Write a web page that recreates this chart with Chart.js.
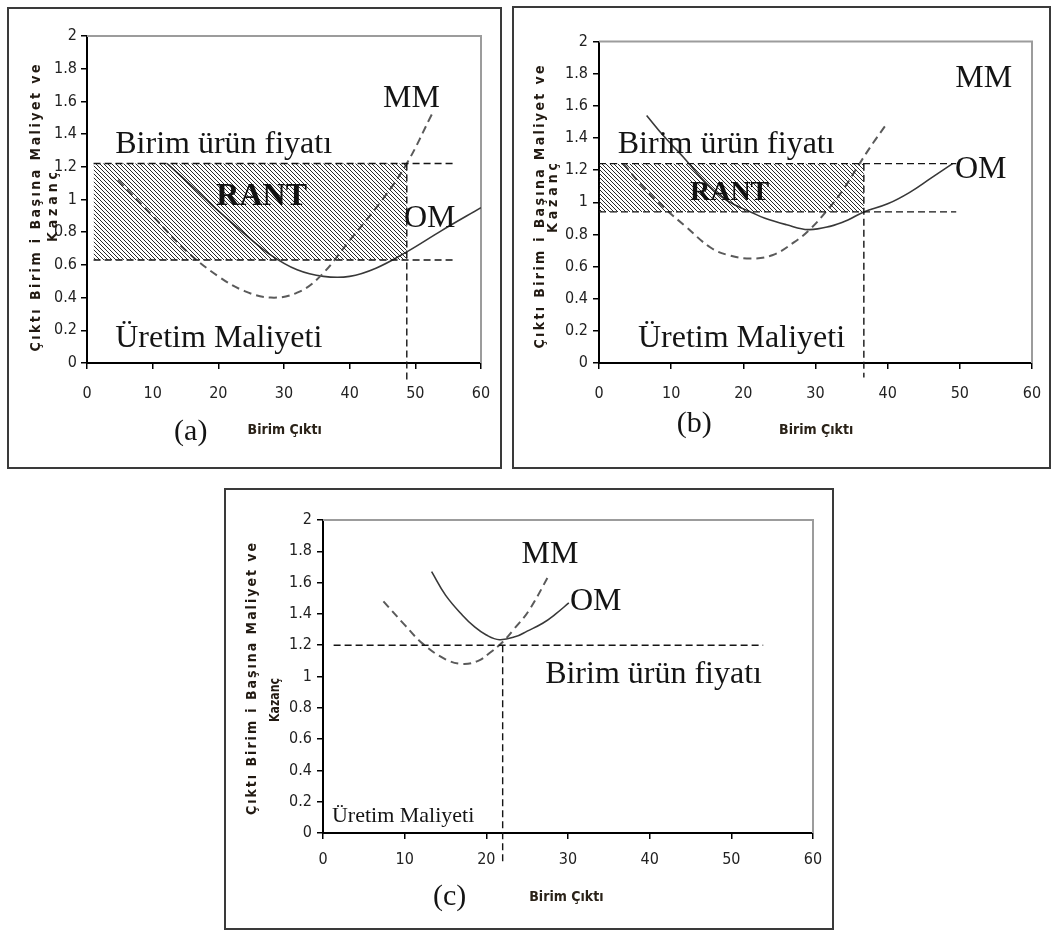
<!DOCTYPE html>
<html>
<head>
<meta charset="utf-8">
<script src="https://cdn.jsdelivr.net/npm/chart.js@4.4.0/dist/chart.umd.min.js"></script>
<style>
    body { margin: 0; background: #fff; width: 1052px; height: 934px; position: relative; overflow: hidden; }
    .box { position: absolute; border: 2px solid #3a3a3a; box-sizing: border-box; background: #fff; }
    .box canvas { position: absolute; left: 0; top: 0; }
</style>
</head>
<body>
<div class="box" style="left:7px;top:7px;width:495px;height:462px"><canvas id="chartA" width="491" height="458"></canvas></div>
<div class="box" style="left:512px;top:6px;width:539px;height:463px"><canvas id="chartB" width="535" height="459"></canvas></div>
<div class="box" style="left:224px;top:488px;width:610px;height:442px"><canvas id="chartC" width="606" height="438"></canvas></div>
<script>
const FONT_NARROW = '"Liberation Sans Narrow", "Arial Narrow", "DejaVu Sans Condensed", "Liberation Sans", Arial, sans-serif';
const FONT_SERIF = '"Liberation Serif", "Times New Roman", serif';

const xTickValues = [0, 10, 20, 30, 40, 50, 60];
const yTickValues = [0, 0.2, 0.4, 0.6, 0.8, 1, 1.2, 1.4, 1.6, 1.8, 2];

// (a)
const mmOutA = [4.7, 10, 15, 20, 24, 28, 32, 35.5, 40, 45, 48.7, 52.5];
const mmA = [1.12, 0.90, 0.69, 0.53, 0.44, 0.40, 0.43, 0.53, 0.75, 1.00, 1.22, 1.52];
const omOutA = [12.2, 16, 20, 24, 28, 32, 36, 40, 44, 48.7, 54, 60];
const omA = [1.22, 1.08, 0.93, 0.79, 0.66, 0.57, 0.53, 0.53, 0.58, 0.68, 0.81, 0.95];
const priceA = 1.22, costA = 0.63, qA = 48.7;
const spanA = [1, 56];

// (b)
const mmOutB = [3.4, 6, 9.4, 12, 15.4, 18, 21, 24, 27, 29.2, 32, 34, 36.1, 38, 39.9];
const mmB = [1.24, 1.10, 0.95, 0.85, 0.72, 0.67, 0.65, 0.67, 0.75, 0.83, 0.97, 1.09, 1.24, 1.37, 1.49];
const omOutB = [6.6, 9, 11.7, 14, 16.8, 19, 21, 23, 26, 29, 32, 34.5, 36.7, 40, 43, 46, 49];
const omB = [1.54, 1.41, 1.28, 1.16, 1.04, 0.98, 0.94, 0.90, 0.86, 0.83, 0.85, 0.89, 0.94, 0.99, 1.06, 1.15, 1.24];
const priceB = 1.24, costB = 0.94, qB = 36.7;
const spanB = [0, 49.5];

// (c)
const mmOutC = [7.4, 10, 12.2, 15, 17.1, 19, 20.4, 22, 23.5, 25.2, 27.7];
const mmC = [1.48, 1.33, 1.21, 1.11, 1.08, 1.10, 1.15, 1.22, 1.31, 1.42, 1.65];
const omOutC = [13.3, 15, 17.1, 18.5, 20, 21.6, 23.6, 25, 26.9, 28.5, 30.1];
const omC = [1.67, 1.52, 1.39, 1.32, 1.265, 1.235, 1.255, 1.29, 1.34, 1.40, 1.47];
const priceC = 1.2, qC = 22;
const spanC = [1.3, 53.9];

// text on the plots: [text, x, y, style]
const labelsA = [
    ['Birim ürün fiyatı', 4.3, 1.284, 'serif'],
    ['RANT', 26.6, 0.966, 'rant'],
    ['MM', 49.4, 1.566, 'serifMid'],
    ['OM', 52.2, 0.83, 'serifMid'],
    ['Üretim Maliyeti', 4.3, 0.098, 'serif'],
    ['(a)', 15.8, -0.42, 'tag'],
    ['Birim Çıktı', 30.1, -0.41, 'axis']
];
const labelsB = [
    ['Birim ürün fiyatı', 2.6, 1.306, 'serif'],
    ['RANT', 18.1, 1.014, 'rantSmall'],
    ['MM', 53.3, 1.717, 'serifMid'],
    ['OM', 52.9, 1.151, 'serifMid'],
    ['Üretim Maliyeti', 5.4, 0.10, 'serif'],
    ['(b)', 13.2, -0.38, 'tag'],
    ['Birim Çıktı', 30.1, -0.42, 'axis']
];
const labelsC = [
    ['MM', 27.8, 1.725, 'serifMid'],
    ['OM', 33.4, 1.425, 'serifMid'],
    ['Birim ürün fiyatı', 27.2, 0.958, 'serif'],
    ['Üretim Maliyeti', 1.1, 0.07, 'serifSmall'],
    ['(c)', 15.5, -0.41, 'tag'],
    ['Birim Çıktı', 29.8, -0.41, 'axis']
];

const yTitle1 = 'Çıktı Birim i Başına Maliyet ve';
const yTitle2 = 'Kazanç';

const textStyles = {
    serif: { font: '32px ' + FONT_SERIF, align: 'left', base: 'alphabetic', color: '#141414' },
    serifMid: { font: '32px ' + FONT_SERIF, align: 'center', base: 'alphabetic', color: '#141414' },
    serifSmall: { font: '22px ' + FONT_SERIF, align: 'left', base: 'alphabetic', color: '#141414' },
    rant: { font: 'bold 32px ' + FONT_SERIF, align: 'center', base: 'alphabetic', color: '#111' },
    rantSmall: { font: 'bold 28px ' + FONT_SERIF, align: 'center', base: 'alphabetic', color: '#111' },
    tag: { font: '30px ' + FONT_SERIF, align: 'center', base: 'middle', color: '#141414' },
    axis: { font: 'bold 14px ' + FONT_NARROW, align: 'center', base: 'middle', color: '#2a2218' }
};

const pts = (xs, ys) => xs.map((x, i) => ({ x: x, y: ys[i] }));
const flat = (xs, v) => xs.map(x => ({ x: x, y: v }));

function hatch() {
    const c = document.createElement('canvas');
    c.width = 4; c.height = 4;
    const g = c.getContext('2d');
    g.strokeStyle = '#111';
    g.lineWidth = 0.9;
    [-4, 0, 4].forEach(o => {
        g.beginPath();
        g.moveTo(0, o);
        g.lineTo(4, 4 + o);
        g.stroke();
    });
    return g.createPattern(c, 'repeat');
}

function dashed(data, extra) {
    return Object.assign({
        data: data, borderColor: '#151515', borderWidth: 1.4, borderDash: [7, 4],
        pointRadius: 0, tension: 0, fill: false
    }, extra || {});
}

function curveMM(data) {
    return { data: data, borderColor: '#5a5a5a', borderWidth: 2, borderDash: [8, 5], pointRadius: 0, tension: 0.4, fill: false };
}

function curveOM(data) {
    return { data: data, borderColor: '#383838', borderWidth: 1.6, pointRadius: 0, tension: 0.4, fill: false };
}

const annotate = {
    id: 'annotate',
    beforeDatasetsDraw(chart) {
        const { ctx, chartArea: a } = chart;
        ctx.save();
        ctx.strokeStyle = '#9c9c9c';
        ctx.lineWidth = 2;
        ctx.beginPath();
        ctx.moveTo(a.left, a.top);
        ctx.lineTo(a.right, a.top);
        ctx.lineTo(a.right, a.bottom);
        ctx.stroke();
        ctx.restore();
    },
    afterDatasetsDraw(chart, args, opts) {
        const { ctx, scales } = chart;
        ctx.save();
        opts.labels.forEach(([text, x, y, style]) => {
            const s = textStyles[style];
            ctx.font = s.font;
            ctx.fillStyle = s.color;
            ctx.textAlign = s.align;
            ctx.textBaseline = s.base;
            ctx.fillText(text, scales.x.getPixelForValue(x), scales.y.getPixelForValue(y));
        });
        ctx.restore();
    },
    afterDraw(chart, args, opts) {
        const ctx = chart.ctx;
        opts.yTitle.forEach(([text, cx, cy, len]) => {
            ctx.save();
            ctx.font = 'bold 14px ' + FONT_NARROW;
            ctx.letterSpacing = '0px';
            const w = ctx.measureText(text).width;
            const sp = Math.max(0, (len - w) / (text.length - 1));
            ctx.letterSpacing = sp + 'px';
            ctx.translate(cx, cy);
            ctx.rotate(-Math.PI / 2);
            if (w > len) ctx.scale(len / w, 1);
            ctx.textAlign = 'center';
            ctx.textBaseline = 'middle';
            ctx.fillStyle = '#221a12';
            ctx.fillText(text, sp / 2, 0);
            ctx.restore();
        });
    }
};

function makeChart(id, area, xPad, yPad, datasets, labels, yTitle) {
    const canvas = document.getElementById(id);
    const W = canvas.width, H = canvas.height;
    const axisW = 40, axisH = 40;
    const tickFont = { family: FONT_NARROW, size: 16 };
    const grid = { drawOnChartArea: false, color: '#000', lineWidth: 1.5, tickLength: 6 };
    const border = { display: true, color: '#000', width: 2 };
    const fitX = s => { s.height = axisH; s.paddingLeft = 0; s.paddingRight = 0; };
    const fitY = s => { s.width = axisW; s.paddingTop = 0; s.paddingBottom = 0; };
    return new Chart(canvas, {
        type: 'line',
        data: { datasets: datasets },
        options: {
            responsive: false,
            animation: false,
            events: [],
            layout: {
                padding: { left: area.left - axisW, top: area.top, right: W - area.right, bottom: H - area.bottom - axisH }
            },
            plugins: {
                legend: { display: false },
                tooltip: { enabled: false },
                annotate: { labels: labels, yTitle: yTitle }
            },
            scales: {
                x: {
                    type: 'linear', min: 0, max: 60,
                    afterBuildTicks: s => { s.ticks = xTickValues.map(v => ({ value: v })); },
                    afterFit: fitX,
                    ticks: { color: '#222', font: tickFont, padding: xPad, maxRotation: 0, autoSkip: false },
                    grid: grid, border: border
                },
                y: {
                    type: 'linear', min: 0, max: 2,
                    afterBuildTicks: s => { s.ticks = yTickValues.map(v => ({ value: v })); },
                    afterFit: fitY,
                    ticks: { color: '#222', font: tickFont, padding: yPad, callback: v => String(Number(v.toFixed(1))) },
                    grid: grid, border: border
                }
            }
        },
        plugins: [annotate]
    });
}

const pattern = hatch();

makeChart('chartA', { left: 78, top: 27, right: 472, bottom: 354 }, 15, 4, [
    { data: flat([spanA[0], qA], priceA), borderWidth: 0, pointRadius: 0, fill: '+1', backgroundColor: pattern },
    { data: flat([spanA[0], qA], costA), borderWidth: 0, pointRadius: 0, fill: false },
    dashed(flat(spanA, priceA)),
    dashed(flat(spanA, costA)),
    dashed([{ x: qA, y: priceA }, { x: qA, y: -0.12 }], { clip: false }),
    curveMM(pts(mmOutA, mmA)),
    curveOM(pts(omOutA, omA))
], labelsA, [
    [yTitle1, 27, 199, 287],
    [yTitle2, 44, 198, 70]
]);

makeChart('chartB', { left: 85, top: 33.5, right: 518, bottom: 355 }, 15, 5, [
    { data: flat([spanB[0], qB], priceB), borderWidth: 0, pointRadius: 0, fill: '+1', backgroundColor: pattern },
    { data: flat([spanB[0], qB], costB), borderWidth: 0, pointRadius: 0, fill: false },
    dashed(flat(spanB, priceB)),
    dashed(flat(spanB, costB)),
    dashed([{ x: qB, y: priceB }, { x: qB, y: -0.09 }], { clip: false }),
    curveMM(pts(mmOutB, mmB)),
    curveOM(pts(omOutB, omB))
], labelsB, [
    [yTitle1, 26, 199, 283],
    [yTitle2, 39, 190, 70]
]);

makeChart('chartC', { left: 97, top: 30, right: 587, bottom: 343 }, 11, 5, [
    dashed(flat(spanC, priceC)),
    dashed([{ x: qC, y: priceC }, { x: qC, y: -0.18 }], { clip: false }),
    curveMM(pts(mmOutC, mmC)),
    curveOM(pts(omOutC, omC))
], labelsC, [
    [yTitle1, 26, 189, 272],
    [yTitle2, 49, 210, 44]
]);
</script>
</body>
</html>
